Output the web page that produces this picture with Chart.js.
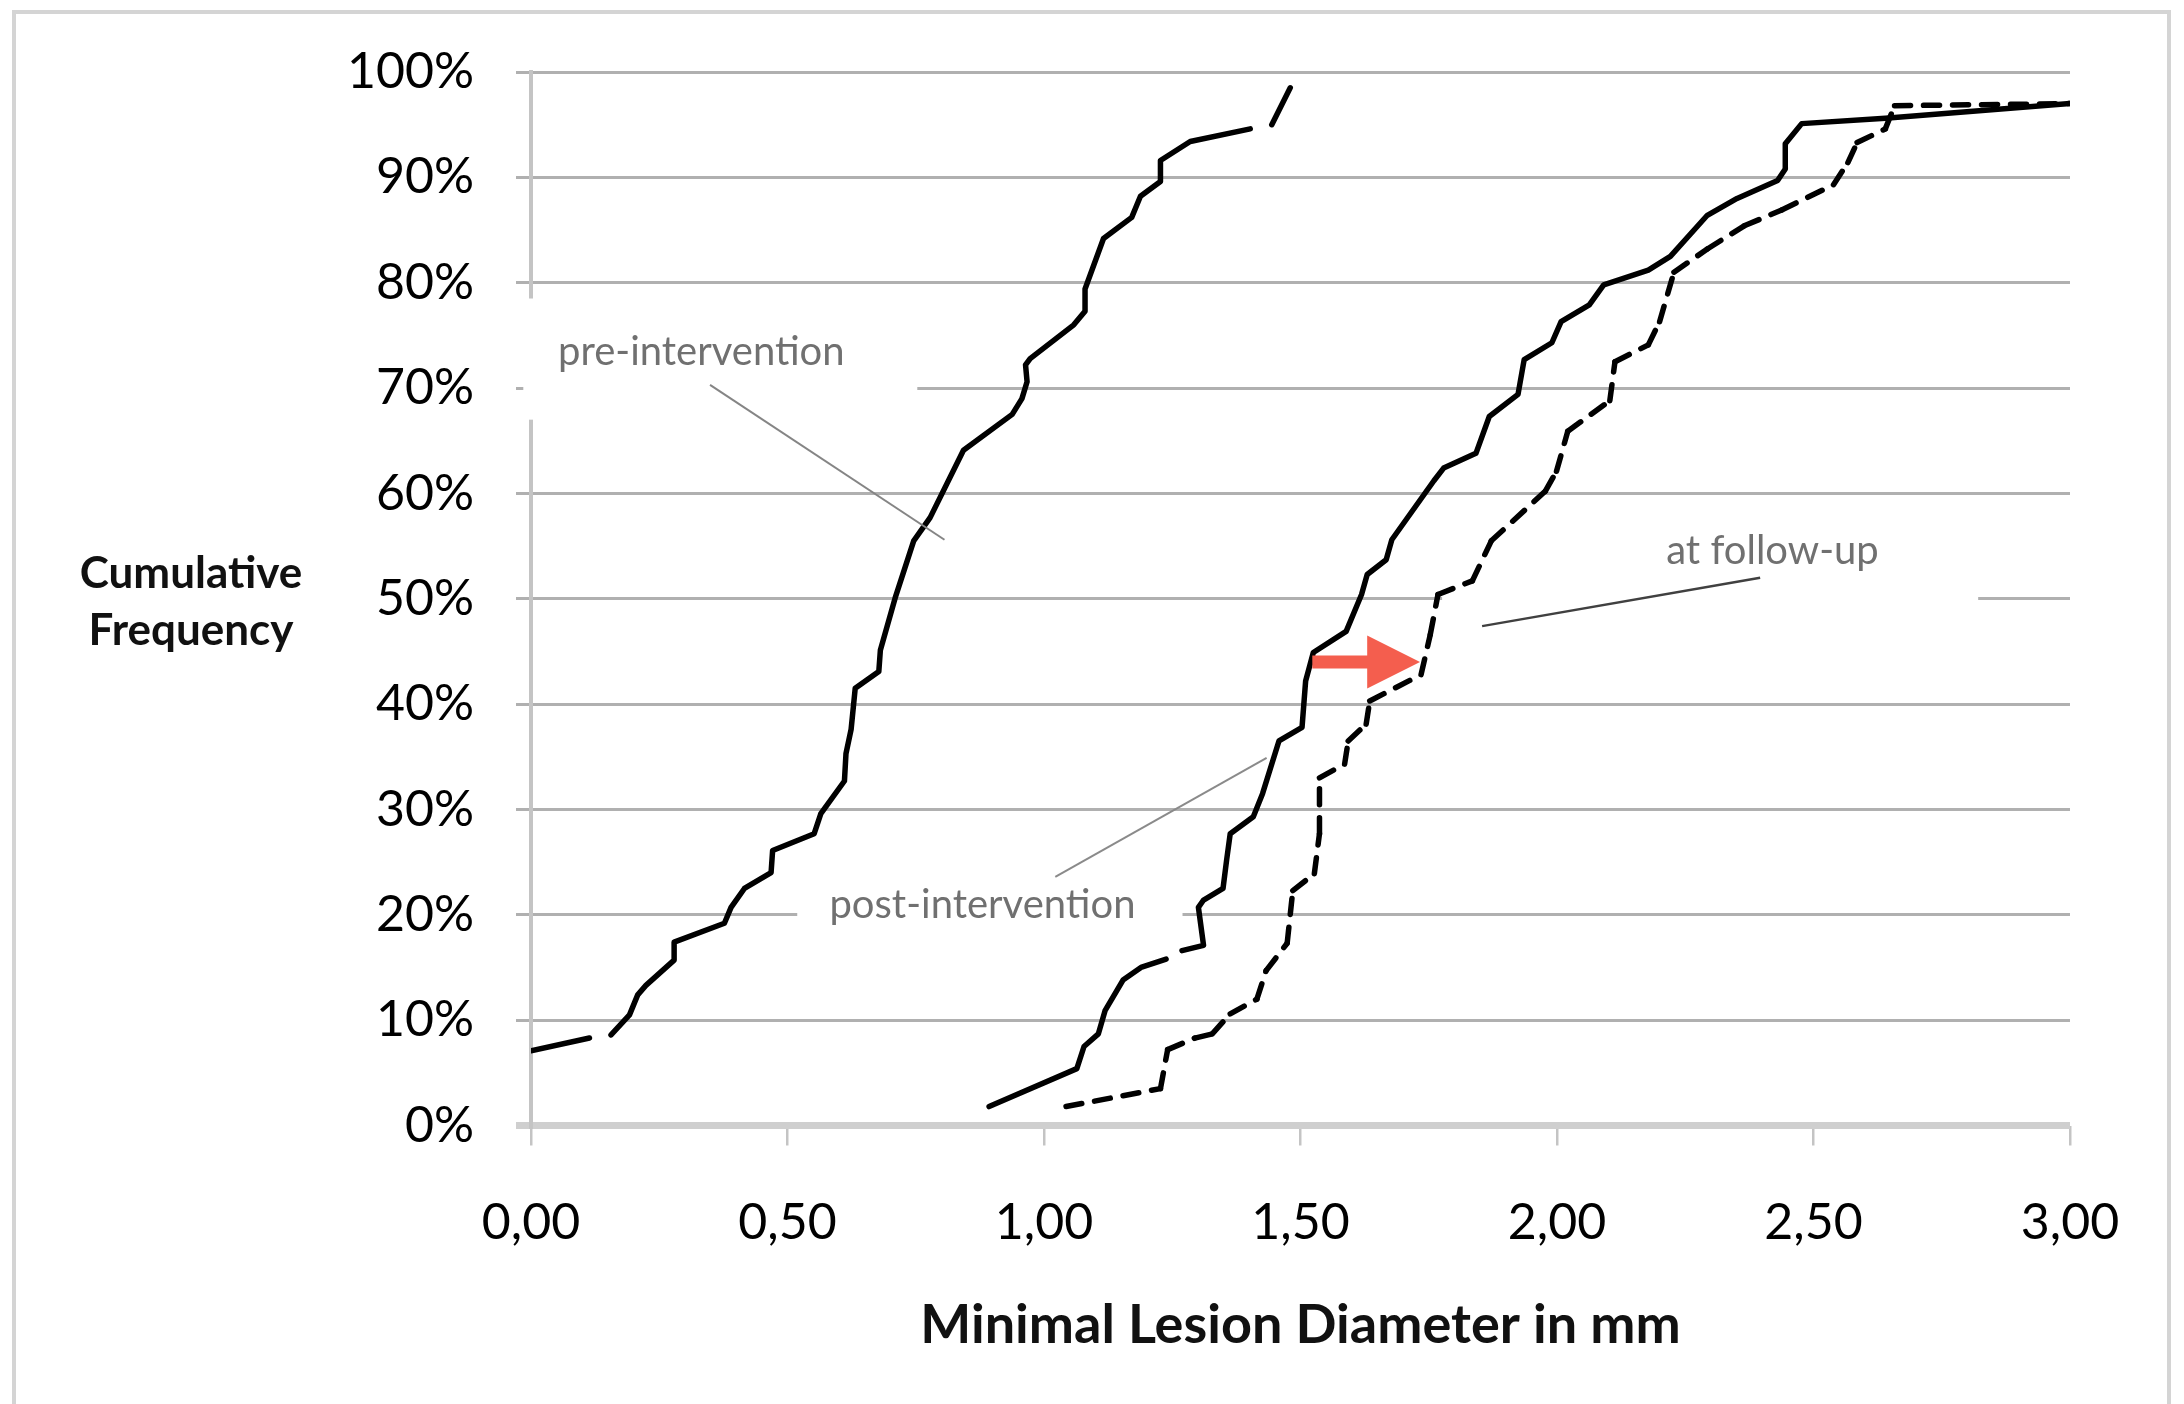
<!DOCTYPE html>
<html>
<head>
<meta charset="utf-8">
<script src="https://cdn.jsdelivr.net/npm/chart.js@4.4.1/dist/chart.umd.min.js"></script>
<style>
html,body{margin:0;padding:0;background:#fff;}
canvas{display:block;}
</style>
</head>
<body>
<canvas id="c" width="2184" height="1404"></canvas>
<script>
// ---------------- data (x = minimal lesion diameter in mm, y = cumulative frequency in %) ----------------
// null marks a break in the drawn line
const preX = [0.000, 0.114, 0.135, 0.156, 0.192, 0.208, 0.224, 0.279, 0.279, 0.377, 0.390, 0.416, 0.468, 0.471, 0.552, 0.565, 0.611, 0.614, 0.624, 0.632, 0.678, 0.681, 0.710, 0.746, 0.778, 0.843, 0.938, 0.957, 0.967, 0.964, 0.973, 1.058, 1.080, 1.080, 1.116, 1.171, 1.188, 1.227, 1.227, 1.285, 1.402, 1.423, 1.444, 1.480];
const preY = [7.1, 8.3, null, 8.6, 10.5, 12.4, 13.3, 15.7, 17.4, 19.2, 20.7, 22.5, 24.0, 26.1, 27.7, 29.6, 32.7, 35.3, 37.6, 41.5, 43.1, 45.1, 50.1, 55.5, 57.7, 64.1, 67.5, 69.0, 70.6, 72.2, 72.8, 76.0, 77.3, 79.4, 84.2, 86.2, 88.2, 89.6, 91.6, 93.4, 94.6, null, 95.0, 98.5];

const postX = [0.893, 1.064, 1.078, 1.106, 1.119, 1.154, 1.189, 1.238, 1.254, 1.269, 1.311, 1.301, 1.311, 1.349, 1.356, 1.363, 1.408, 1.426, 1.458, 1.503, 1.510, 1.525, 1.589, 1.619, 1.630, 1.667, 1.678, 1.760, 1.779, 1.842, 1.868, 1.924, 1.936, 1.990, 2.008, 2.063, 2.091, 2.178, 2.221, 2.293, 2.351, 2.430, 2.445, 2.445, 2.477, 2.640, 3.000];
const postY = [1.8, 5.4, 7.5, 8.7, 10.9, 13.8, 15.0, 15.8, null, 16.6, 17.1, 20.7, 21.4, 22.5, 25.2, 27.7, 29.3, 31.5, 36.5, 37.8, 42.2, 44.9, 46.9, 50.4, 52.3, 53.7, 55.6, 61.2, 62.4, 63.8, 67.3, 69.4, 72.7, 74.3, 76.3, 77.9, 79.8, 81.2, 82.5, 86.4, 88.0, 89.7, 90.8, 93.2, 95.1, 95.6, 97.0];

const followX = [1.043, 1.227, 1.241, 1.294, 1.328, 1.363, 1.415, 1.433, 1.474, 1.485, 1.527, 1.537, 1.537, 1.586, 1.593, 1.628, 1.635, 1.735, 1.753, 1.768, 1.835, 1.872, 1.977, 1.999, 2.021, 2.103, 2.113, 2.178, 2.200, 2.228, 2.293, 2.365, 2.438, 2.539, 2.567, 2.585, 2.640, 2.658, 3.000];
const followY = [1.8, 3.5, 7.2, 8.3, 8.7, 10.6, 12.0, 14.7, 17.3, 22.3, 23.9, 27.7, 33.0, 34.3, 36.5, 38.1, 40.3, 42.8, 46.6, 50.4, 51.7, 55.5, 60.2, 62.1, 65.9, 68.8, 72.5, 74.1, 76.3, 81.0, 83.2, 85.4, 86.9, 89.3, 91.4, 93.3, 94.6, 96.8, 97.0];

const seriesNames = ['pre-intervention', 'post-intervention', 'at follow-up'];
const xTickLabels = ['0,00', '0,50', '1,00', '1,50', '2,00', '2,50', '3,00'];
const yTickLabels = ['0%', '10%', '20%', '30%', '40%', '50%', '60%', '70%', '80%', '90%', '100%'];
const xTitle = 'Minimal Lesion Diameter in mm';
const yTitleLines = ['Cumulative', 'Frequency'];

// ---------------- annotation layout (in data units) ----------------
const annot = {
  boxes: [
    {x0: -0.015, x1: 0.753, y0: 78.5, y1: 67.0},
    {x0: 0.519, x1: 1.270, y0: 24.9, y1: 16.8},
    {x0: 1.776, x1: 2.821, y0: 58.8, y1: 49.3}
  ],
  labels: [
    {x: 0.332, y: 73.4},
    {x: 0.880, y: 20.9},
    {x: 2.420, y: 54.5}
  ],
  leaders: [
    {x0: 0.349, y0: 70.3, x1: 0.806, y1: 55.6, color: '#858585', w: 2},
    {x0: 1.022, y0: 23.6, x1: 1.434, y1: 34.9, color: '#8a8a8a', w: 2},
    {x0: 1.854, y0: 47.4, x1: 2.396, y1: 52.0, color: '#404040', w: 2.5}
  ],
  arrow: {x0: 1.523, xHead: 1.630, xTip: 1.733, y: 44.0, shaftHalf: 6.5, headHalf: 26.5, color: '#F45E4E'}
};

const FONT = 'Lato, "Open Sans", sans-serif';
const pts = (xs, ys) => xs.map((x, i) => ({x: x, y: ys[i]}));

const decor = {
  id: 'decor',
  beforeDraw(chart) {
    const c = chart.ctx;
    c.save();
    c.fillStyle = '#fff';
    c.fillRect(0, 0, chart.width, chart.height);
    c.strokeStyle = '#d4d4d4';
    c.lineWidth = 4;
    c.strokeRect(14, 12, 2155, 1440);
    c.restore();
  },
  beforeDatasetsDraw(chart) {
    const c = chart.ctx, xs = chart.scales.x, ys = chart.scales.y;
    c.save();
    c.fillStyle = '#fff';
    annot.boxes.forEach(b => {
      const x0 = xs.getPixelForValue(b.x0), x1 = xs.getPixelForValue(b.x1);
      const y0 = ys.getPixelForValue(b.y0), y1 = ys.getPixelForValue(b.y1);
      c.fillRect(x0, y0, x1 - x0, y1 - y0);
    });
    c.restore();
  },
  afterDatasetsDraw(chart) {
    const c = chart.ctx, xs = chart.scales.x, ys = chart.scales.y;
    c.save();
    annot.leaders.forEach(l => {
      c.strokeStyle = l.color;
      c.lineWidth = l.w;
      c.beginPath();
      c.moveTo(xs.getPixelForValue(l.x0), ys.getPixelForValue(l.y0));
      c.lineTo(xs.getPixelForValue(l.x1), ys.getPixelForValue(l.y1));
      c.stroke();
    });
    c.fillStyle = '#707070';
    c.font = '40px ' + FONT;
    c.textAlign = 'center';
    c.textBaseline = 'middle';
    annot.labels.forEach((p, i) => {
      c.fillText(seriesNames[i], xs.getPixelForValue(p.x), ys.getPixelForValue(p.y));
    });
    const a = annot.arrow;
    const ax0 = xs.getPixelForValue(a.x0), axh = xs.getPixelForValue(a.xHead), axt = xs.getPixelForValue(a.xTip);
    const ay = ys.getPixelForValue(a.y);
    c.fillStyle = a.color;
    c.beginPath();
    c.moveTo(ax0, ay - a.shaftHalf);
    c.lineTo(axh, ay - a.shaftHalf);
    c.lineTo(axh, ay - a.headHalf);
    c.lineTo(axt, ay);
    c.lineTo(axh, ay + a.headHalf);
    c.lineTo(axh, ay + a.shaftHalf);
    c.lineTo(ax0, ay + a.shaftHalf);
    c.closePath();
    c.fill();
    c.restore();
  },
  afterDraw(chart) {
    const c = chart.ctx;
    c.save();
    c.fillStyle = '#111';
    c.font = 'bold 44px ' + FONT;
    c.textAlign = 'center';
    c.textBaseline = 'middle';
    c.fillText(yTitleLines[0], 191, 574);
    c.fillText(yTitleLines[1], 191, 631);
    c.restore();
  }
};

const lineBase = {
  borderColor: '#000',
  borderWidth: 5.5,
  pointRadius: 0,
  pointHoverRadius: 0,
  tension: 0,
  fill: false,
  borderCapStyle: 'round',
  borderJoinStyle: 'round',
  spanGaps: false
};

new Chart(document.getElementById('c'), {
  type: 'line',
  data: {
    datasets: [
      Object.assign({label: seriesNames[0], data: pts(preX, preY)}, lineBase),
      Object.assign({label: seriesNames[1], data: pts(postX, postY)}, lineBase),
      Object.assign({label: seriesNames[2], data: pts(followX, followY),
        segment: {
          borderDash: () => [16, 13],
          borderDashOffset: ctx => (ctx.p0DataIndex % 2) * 0.01
        }}, lineBase)
    ]
  },
  options: {
    responsive: false,
    animation: false,
    events: [],
    layout: {padding: {left: 0, top: 69.5, right: 114, bottom: 0}},
    plugins: {legend: {display: false}, tooltip: {enabled: false}},
    scales: {
      x: {
        type: 'linear',
        min: 0, max: 3,
        afterFit: s => { s.height = 278.5; },
        ticks: {
          stepSize: 0.5,
          autoSkip: false,
          maxRotation: 0,
          padding: 47.5,
          color: '#000',
          font: {family: FONT, size: 50},
          callback: (v, i) => xTickLabels[i]
        },
        grid: {
          drawOnChartArea: false,
          drawTicks: true,
          tickLength: 20,
          color: '#c4c4c4',
          lineWidth: 2.5
        },
        border: {display: false},
        title: {
          display: true,
          text: xTitle,
          color: '#111',
          font: {family: FONT, size: 54, weight: 'bold'},
          padding: {top: 0, bottom: 46}
        }
      },
      y: {
        type: 'linear',
        min: 0, max: 100,
        afterFit: s => { s.width = 531; },
        ticks: {
          stepSize: 10,
          padding: 42,
          color: '#000',
          font: {family: FONT, size: 50},
          callback: (v, i) => yTickLabels[i]
        },
        grid: {
          drawTicks: true,
          tickLength: 15,
          color: ctx => (ctx.tick && ctx.tick.value === 0) ? '#cfcfcf' : '#b0b0b0',
          lineWidth: ctx => (ctx.tick && ctx.tick.value === 0) ? 7 : 3
        },
        border: {display: true, color: '#c4c4c4', width: 4}
      }
    }
  },
  plugins: [decor]
});
</script>
</body>
</html>
